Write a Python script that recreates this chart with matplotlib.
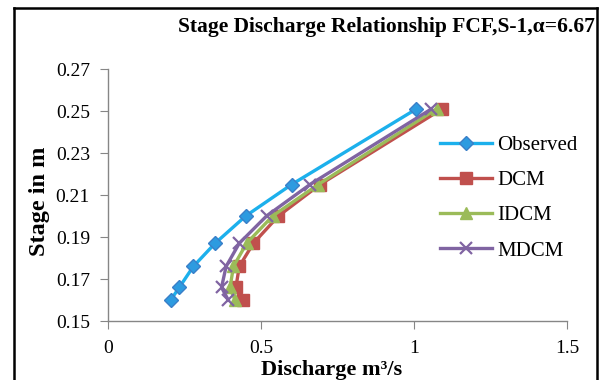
import matplotlib
matplotlib.use('Agg')
import matplotlib.pyplot as plt
from matplotlib.lines import Line2D

plt.rcParams['font.family'] = ['Liberation Serif', 'DejaVu Serif']

# stage (m) and discharge (m3/s)
stage = [0.160, 0.166, 0.176, 0.187, 0.200, 0.215, 0.251]
q_observed = [0.205, 0.233, 0.279, 0.350, 0.450, 0.600, 1.008]
q_dcm = [0.440, 0.418, 0.429, 0.475, 0.557, 0.693, 1.092]
q_idcm = [0.415, 0.399, 0.410, 0.453, 0.538, 0.687, 1.074]
q_mdcm = [0.393, 0.371, 0.386, 0.429, 0.518, 0.660, 1.057]

xticks = [0, 0.5, 1, 1.5]
xticklabels = ['0', '0.5', '1', '1.5']
yticks = [0.15, 0.17, 0.19, 0.21, 0.23, 0.25, 0.27]

W, H = 602, 380
fig = plt.figure(figsize=(W / 100, H / 100), dpi=100)
ax = fig.add_axes([108 / W, 1 - 321 / H, (567 - 108) / W, (321 - 69) / H])

lw = 2.4
ax.plot(q_observed, stage, color='#1CB0EC', lw=lw, marker='D', ms=7,
        mfc='#2D9BE0', mec='#3A7FC8', label='Observed', zorder=5)
ax.plot(q_dcm, stage, color='#C0504D', lw=lw, marker='s', ms=8,
        mfc='#C0504D', mec='#C0504D', label='DCM', zorder=2)
ax.plot(q_idcm, stage, color='#9BBB59', lw=lw, marker='^', ms=8,
        mfc='#9BBB59', mec='#9BBB59', label='IDCM', zorder=3)
ax.plot(q_mdcm, stage, color='#8064A2', lw=lw, marker='x', ms=8, mew=1.6,
        mec='#8064A2', label='MDCM', zorder=4)

ax.set_xlim(0, 1.5)
ax.set_ylim(0.15, 0.27)
ax.set_xticks(xticks)
ax.set_xticklabels(xticklabels)
ax.set_yticks(yticks)
ax.set_yticklabels(['%.2f' % v for v in yticks])
for s in ['top', 'right']:
    ax.spines[s].set_visible(False)
for s in ['left', 'bottom']:
    ax.spines[s].set_color('#868686')
    ax.spines[s].set_linewidth(1.0)
ax.tick_params(axis='both', direction='out', length=6, color='#868686',
               labelsize=14)
ax.tick_params(axis='y', pad=7)
ax.tick_params(axis='x', pad=8)

ax.legend(loc='center left', bbox_to_anchor=(440 / W, 1 - 198 / H),
          bbox_transform=fig.transFigure, frameon=False, fontsize=15,
          handlelength=2.5, handletextpad=0.25, labelspacing=0.75,
          borderpad=0, borderaxespad=0)

fig.text(595 / W, 1 - 27 / H, 'Stage Discharge Relationship FCF,S-1,\u03b1=6.67',
         ha='right', va='center', fontsize=15.5, fontweight='bold')
fig.text(40 / W, 1 - 201 / H, 'Stage in m', rotation=90, ha='center',
         va='center', fontsize=17.5, fontweight='bold')
fig.text(332 / W, 1 - 370 / H, 'Discharge m\u00b3/s', ha='center',
         va='center', fontsize=16, fontweight='bold')

# outer border of the chart area
for xs, ys in [([14, 14], [H, 8]), ([14, 597], [8, 8]), ([597, 597], [8, H])]:
    fig.add_artist(Line2D([x / W for x in xs], [1 - y / H for y in ys],
                          color='black', lw=1.8))

fig.savefig('out.png', dpi=100)
